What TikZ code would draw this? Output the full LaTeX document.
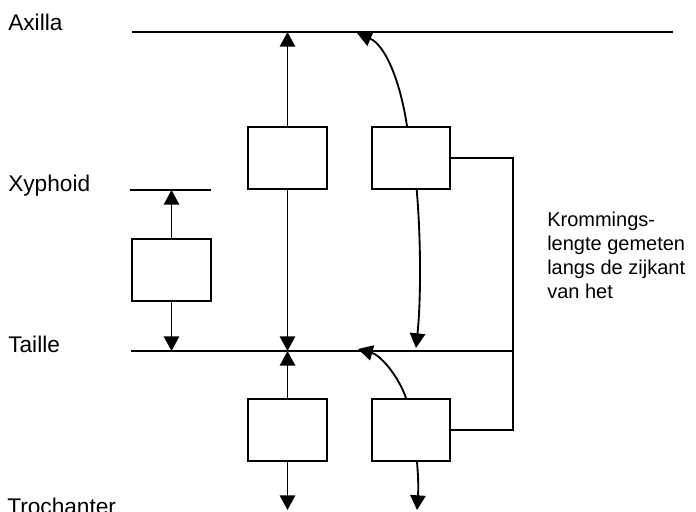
\documentclass[tikz,border=0pt]{standalone}
\usepackage{fontspec}
\setmainfont{Liberation Sans}
\usepackage{tikz}
\usetikzlibrary{arrows.meta,positioning,calc}
\tikzstyle{meetvak} = [draw,line width=1.5pt,minimum width=59.2pt,minimum height=46.5pt,inner sep=0pt]
\tikzstyle{niveau} = [line width=1.4pt]
\tikzstyle{maat} = [line width=1.4pt,arrows={-Triangle[length=11pt,width=11.5pt]}]
\tikzstyle{niveaunaam} = [anchor=base west,inner sep=0pt,font=\fontsize{17}{20}\selectfont]
\tikzstyle{uitleg} = [anchor=north west,inner sep=0pt,align=left,font=\fontsize{15}{18}\selectfont]

\begin{document}
\begin{tikzpicture}[x=0.75pt,y=-0.75pt]
                  \useasboundingbox (0,0) rectangle (696,511);
                  % niveaus
                  \coordinate (ax1) at (132,32);
                  \coordinate (ax2) at (673,32);
                  \coordinate (xy1) at (130,190);
                  \coordinate (xy2) at (211,190);
                  \coordinate (ta1) at (131,351);
                  \coordinate (ta2) at (513,351);
                  \coordinate (br1) at (513,158);
                  \coordinate (br2) at (513,430);
                  \coordinate (axC) at (357,33);
                  \coordinate (taC) at (416,348);
                  \coordinate (taE) at (358,349);
                  \coordinate (trD) at (287.5,510);
                  \coordinate (trE) at (417,510);

                  \node (axilla)[niveaunaam] at (8,30) {Axilla};
                  \node (xyphoid)[niveaunaam] at (8,191) {Xyphoid};
                  \node (taille)[niveaunaam] at (8,352) {Taille};
                  \node (trochanter)[niveaunaam] at (7,514) {Trochanter};
                  \node (kromming)[uitleg] at (547,212) {Krommings-\\lengte gemeten\\langs de zijkant\\van het};

                  \node (A)[meetvak] at (171.5,270) {};
                  \node (B)[meetvak] at (287.5,158) {};
                  \node (C)[meetvak] at (411,158) {};
                  \node (D)[meetvak] at (287.5,430) {};
                  \node (E)[meetvak] at (411,430) {};

                  \draw[niveau] (ax1) -- (ax2);
                  \draw[niveau] (xy1) -- (xy2);
                  \draw[niveau] (ta1) -- (ta2);
                  \draw[niveau] (C.east) -- (br1) -- (br2) -- (E.east);

                  \draw[maat] (A.north) -- (A.north |- xy1);
                  \draw[maat] (A.south) -- (A.south |- ta1);
                  \draw[maat] (B.north) -- (B.north |- ax1);
                  \draw[maat] (B.south) -- (B.south |- ta1);
                  \draw[maat] (D.north) -- (D.north |- ta1);
                  \draw[maat] (D.south) -- (trD);
                  \draw[maat] ([xshift=-3pt]C.north) .. controls (400,80) and (385,45) .. (axC);
                  \draw[maat] ([xshift=4.3pt]C.south) .. controls (421,240) and (421,300) .. (taC);
                  \draw[maat] ([xshift=-3.75pt]E.north) .. controls (398,375) and (380,355) .. (taE);
                  \draw[maat] ([xshift=4.5pt]E.south) .. controls (419,485) and (418,495) .. (trE);
            \end{tikzpicture}
\end{document}
